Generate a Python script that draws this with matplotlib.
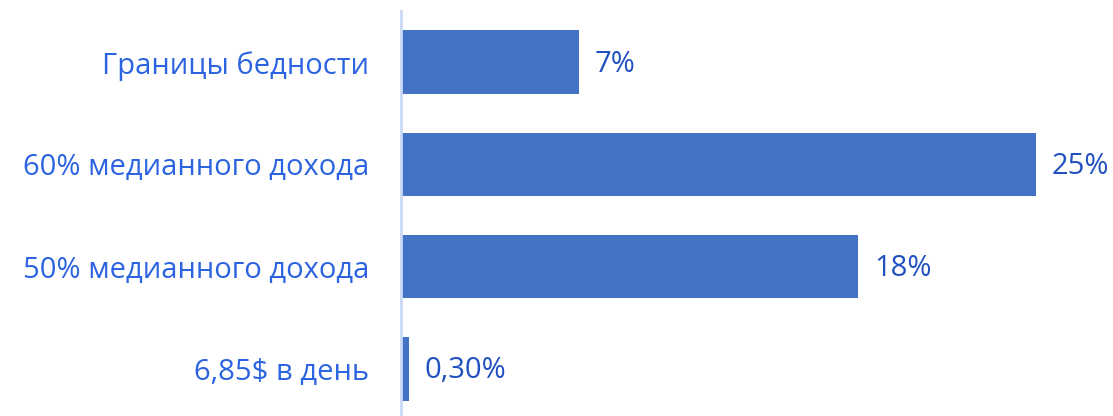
import matplotlib

matplotlib.use("Agg")
import matplotlib.pyplot as plt

categories = ["Границы бедности", "60% медианного дохода", "50% медианного дохода", "6,85$ в день"]
values = [7, 25, 18, 0.3]
value_labels = ["7%", "25%", "18%", "0,30%"]

BAR_COLOR = "#4472C4"
CAT_COLOR = "#2C63E0"
VAL_COLOR = "#2150C0"
AXIS_COLOR = "#C9D8F5"

plt.rcParams["font.family"] = ["Open Sans", "DejaVu Sans"]

fig = plt.figure(figsize=(11.13, 4.16), dpi=100)
ax = fig.add_axes([401 / 1113, 0.0, 1 - 401 / 1113, 1 - 11 / 416])

pos = list(range(len(categories)))
ax.barh(pos, values, height=0.62, color=BAR_COLOR)
ax.set_ylim(3.46, -0.5)
ax.set_xlim(0, 28.03)

for p, v, lab in zip(pos, values, value_labels):
    ax.annotate(lab, (v, p), xytext=(16, -2), textcoords="offset pixels",
                va="center", ha="left", fontsize=21, color=VAL_COLOR)

ax.set_yticks(pos)
ax.set_yticklabels(categories, fontsize=21, color=CAT_COLOR)
ax.tick_params(axis="y", length=0, pad=23)
ax.set_xticks([])
for side in ("top", "right", "bottom"):
    ax.spines[side].set_visible(False)
ax.spines["left"].set_color(AXIS_COLOR)
ax.spines["left"].set_linewidth(2)

fig.savefig("out.png", dpi=100)
